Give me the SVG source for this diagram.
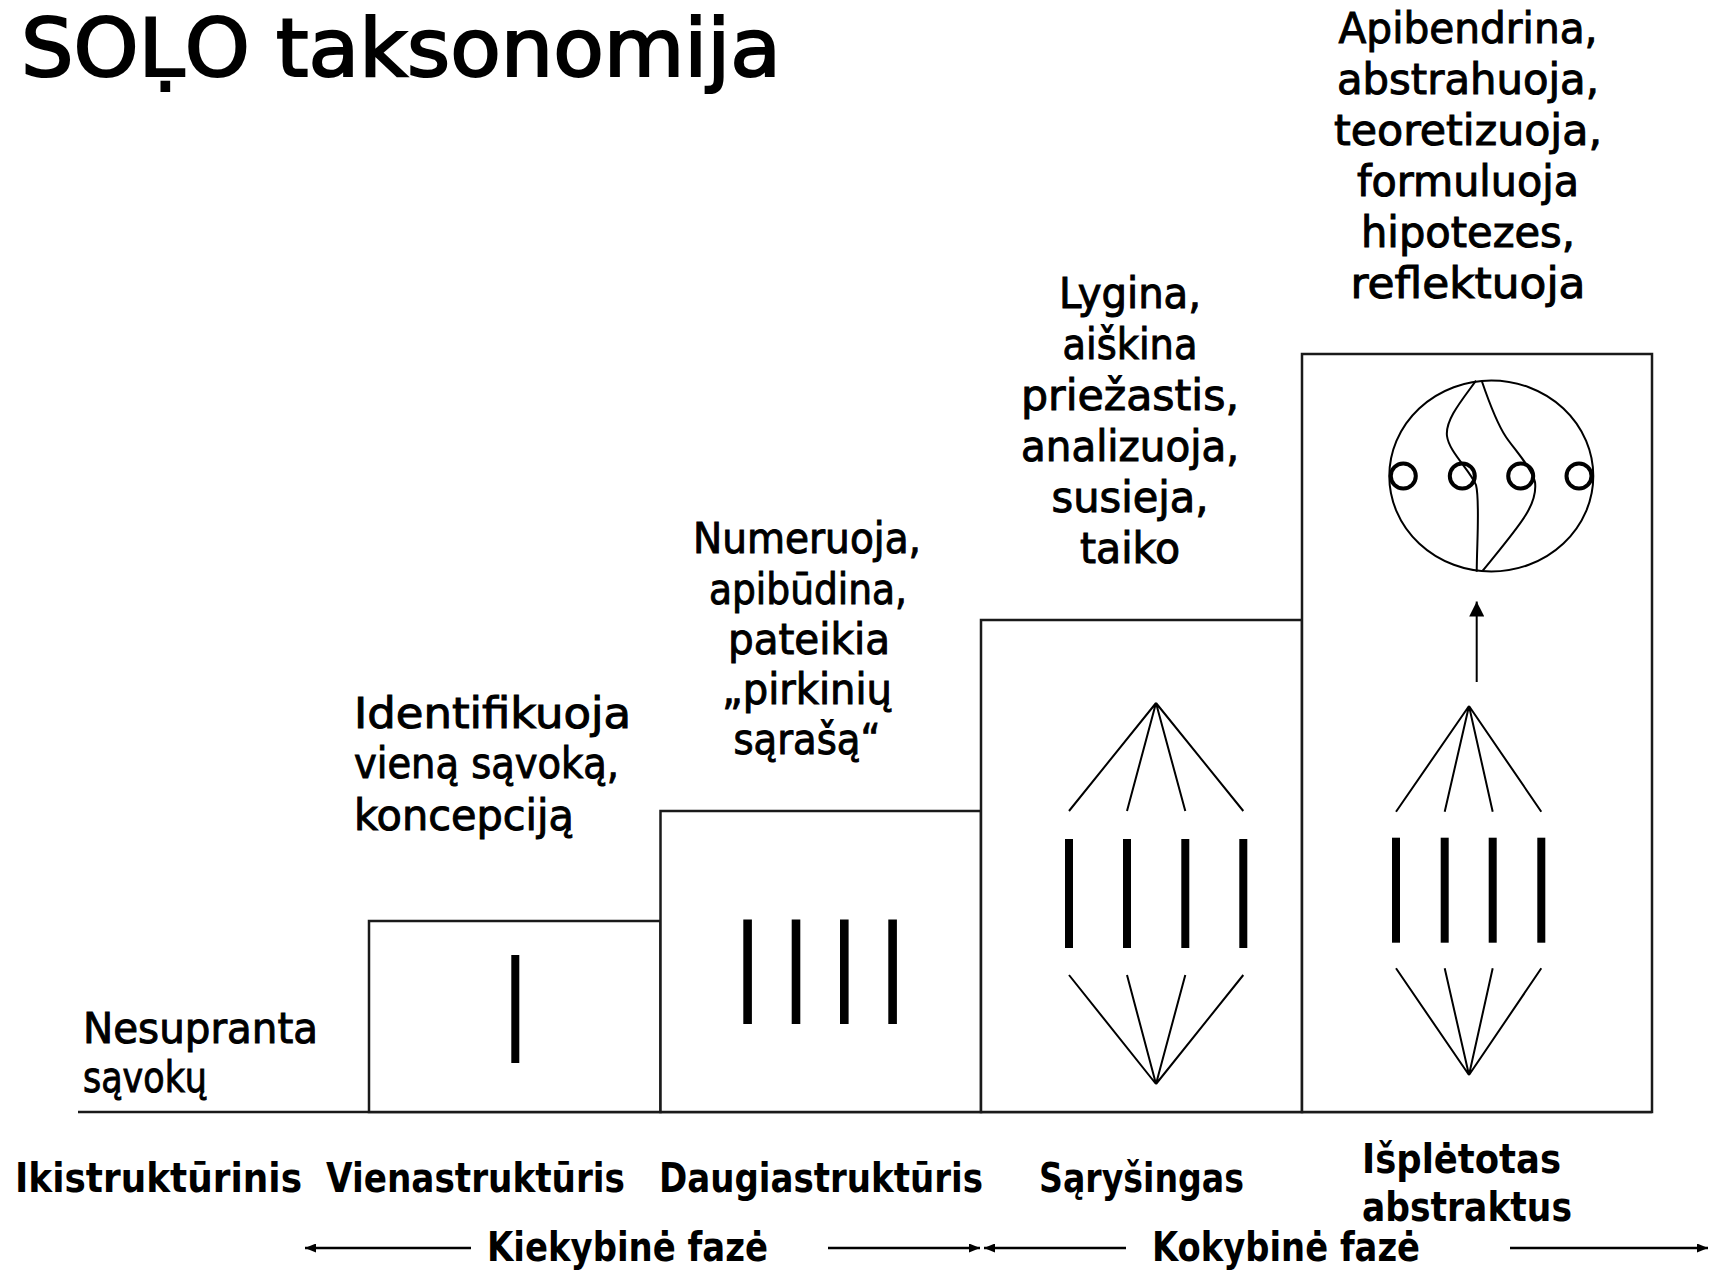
<svg xmlns="http://www.w3.org/2000/svg" width="1709" height="1271" viewBox="0 0 1709 1271">
  <defs>
    <style>
      .box { fill: #ffffff; stroke: #1a1a1a; stroke-width: 2.5; }
      .bar { fill: #000000; }
      .fan { stroke: #000000; stroke-width: 2; fill: none; }
      .ring { fill: none; stroke: #000000; stroke-width: 4; }
      .thin { fill: none; stroke: #000000; stroke-width: 2; }
      .lbl { font-family: "DejaVu Sans", "Liberation Sans", sans-serif; font-size: 42px; fill: #000000; stroke: #000000; stroke-width: 1; }
      .mid { text-anchor: middle; }
      .lvl { font-family: "DejaVu Sans", "Liberation Sans", sans-serif; font-weight: bold; font-size: 40px; fill: #000000; }
      .title { font-family: "DejaVu Sans", "Liberation Sans", sans-serif; font-size: 81px; fill: #000000; stroke: #000000; stroke-width: 2.2; }
      .phase { stroke: #000000; stroke-width: 2.5; fill: none; }
    </style>
    <marker id="head" viewBox="0 0 11 9" refX="11" refY="4.5" markerWidth="11" markerHeight="9" markerUnits="userSpaceOnUse" orient="auto">
      <path d="M0,0 L11,4.5 L0,9 Z" fill="#000000"/>
    </marker>
    <marker id="headLg" viewBox="0 0 15 15" refX="15" refY="7.5" markerWidth="15" markerHeight="15" markerUnits="userSpaceOnUse" orient="auto">
      <path d="M0,0 L15,7.5 L0,15 Z" fill="#000000"/>
    </marker>
  </defs>

  <rect width="1709" height="1271" fill="#ffffff"/>

  <!-- heading -->
  <text class="title" x="21" y="76" textLength="760" lengthAdjust="spacingAndGlyphs">SOḶO taksonomija</text>

  <!-- ground line -->
  <line x1="78" y1="1112" x2="1652" y2="1112" stroke="#1a1a1a" stroke-width="2.5"/>

  <!-- level 0: prestructural -->
  <g id="level-prestructural">
    <text class="lbl" x="83" y="1043" textLength="235" lengthAdjust="spacingAndGlyphs">Nesupranta</text>
    <text class="lbl" x="83" y="1092" textLength="124" lengthAdjust="spacingAndGlyphs">sąvokų</text>
    <text class="lvl" x="15" y="1192" textLength="287" lengthAdjust="spacingAndGlyphs">Ikistruktūrinis</text>
  </g>

  <!-- level 1: unistructural -->
  <g id="level-unistructural">
    <rect class="box" x="369" y="921" width="291.5" height="191"/>
    <rect class="bar" x="511.3" y="955" width="8" height="108"/>
    <text class="lbl" x="354" y="728" textLength="277" lengthAdjust="spacingAndGlyphs">Identifikuoja</text>
    <text class="lbl" x="354" y="778" textLength="265" lengthAdjust="spacingAndGlyphs">vieną sąvoką,</text>
    <text class="lbl" x="354" y="830" textLength="220" lengthAdjust="spacingAndGlyphs">koncepciją</text>
    <text class="lvl" x="326" y="1192" textLength="299" lengthAdjust="spacingAndGlyphs">Vienastruktūris</text>
  </g>

  <!-- level 2: multistructural -->
  <g id="level-multistructural">
    <rect class="box" x="660.5" y="811" width="320.5" height="301"/>
    <rect class="bar" x="743.3" y="919.5" width="8.6" height="104.5"/>
    <rect class="bar" x="791.7" y="919.5" width="8.6" height="104.5"/>
    <rect class="bar" x="840" y="919.5" width="8.6" height="104.5"/>
    <rect class="bar" x="888.3" y="919.5" width="8.6" height="104.5"/>
    <text class="lbl mid" x="807" y="553" textLength="228" lengthAdjust="spacingAndGlyphs">Numeruoja,</text>
    <text class="lbl mid" x="808" y="604" textLength="198" lengthAdjust="spacingAndGlyphs">apibūdina,</text>
    <text class="lbl mid" x="809" y="654" textLength="162" lengthAdjust="spacingAndGlyphs">pateikia</text>
    <text class="lbl mid" x="807" y="704" textLength="170" lengthAdjust="spacingAndGlyphs">„pirkinių</text>
    <text class="lbl mid" x="807" y="754" textLength="147" lengthAdjust="spacingAndGlyphs">sąrašą“</text>
    <text class="lvl" x="659" y="1192" textLength="324" lengthAdjust="spacingAndGlyphs">Daugiastruktūris</text>
  </g>

  <!-- level 3: relational -->
  <g id="level-relational">
    <rect class="box" x="981" y="620" width="321" height="492"/>
    <path class="fan" d="M1069,811 L1156,703 L1127,811 M1156,703 L1185.3,811 M1156,703 L1243.3,811"/>
    <rect class="bar" x="1065" y="839" width="8" height="109"/>
    <rect class="bar" x="1123" y="839" width="8" height="109"/>
    <rect class="bar" x="1181.3" y="839" width="8" height="109"/>
    <rect class="bar" x="1239.3" y="839" width="8" height="109"/>
    <path class="fan" d="M1069,975 L1156,1084 L1127,975 M1156,1084 L1185.3,975 M1156,1084 L1243.3,975"/>
    <text class="lbl mid" x="1130" y="308" textLength="142" lengthAdjust="spacingAndGlyphs">Lygina,</text>
    <text class="lbl mid" x="1130" y="359" textLength="135" lengthAdjust="spacingAndGlyphs">aiškina</text>
    <text class="lbl mid" x="1130" y="410" textLength="218" lengthAdjust="spacingAndGlyphs">priežastis,</text>
    <text class="lbl mid" x="1130" y="461" textLength="218" lengthAdjust="spacingAndGlyphs">analizuoja,</text>
    <text class="lbl mid" x="1130" y="512" textLength="157" lengthAdjust="spacingAndGlyphs">susieja,</text>
    <text class="lbl mid" x="1130" y="563" textLength="100" lengthAdjust="spacingAndGlyphs">taiko</text>
    <text class="lvl" x="1039" y="1192" textLength="205" lengthAdjust="spacingAndGlyphs">Sąryšingas</text>
  </g>

  <!-- level 4: extended abstract -->
  <g id="level-extended-abstract">
    <rect class="box" x="1302" y="354" width="350" height="758"/>
    <ellipse class="thin" cx="1491.3" cy="476" rx="102" ry="95.5"/>
    <circle class="ring" cx="1403.3" cy="476" r="12.5"/>
    <circle class="ring" cx="1462.3" cy="476" r="12.5"/>
    <circle class="ring" cx="1520.7" cy="476" r="12.5"/>
    <circle class="ring" cx="1579" cy="476" r="12.5"/>
    <path class="thin" d="M1476,380.7 C1462,400 1445,420 1447,436 C1449,452 1470,470 1476,485 C1480,500 1477,540 1476.7,571.7"/>
    <path class="thin" d="M1481.7,380.7 C1490,405 1498,425 1506,437 C1514,449 1532,468 1535,482 C1538,505 1520,525 1482.7,570.7"/>
    <path class="fan" d="M1396,811.7 L1469,706 L1444.7,811.7 M1469,706 L1492.7,811.7 M1469,706 L1541.3,811.7"/>
    <rect class="bar" x="1392" y="837.7" width="8" height="105"/>
    <rect class="bar" x="1440.7" y="837.7" width="8" height="105"/>
    <rect class="bar" x="1488.7" y="837.7" width="8" height="105"/>
    <rect class="bar" x="1537.3" y="837.7" width="8" height="105"/>
    <path class="fan" d="M1396,968.3 L1469,1075 L1444.7,968.3 M1469,1075 L1492.7,968.3 M1469,1075 L1541.3,968.3"/>
    <text class="lbl mid" x="1468" y="43" textLength="259" lengthAdjust="spacingAndGlyphs">Apibendrina,</text>
    <text class="lbl mid" x="1468" y="94" textLength="262" lengthAdjust="spacingAndGlyphs">abstrahuoja,</text>
    <text class="lbl mid" x="1468" y="145" textLength="268" lengthAdjust="spacingAndGlyphs">teoretizuoja,</text>
    <text class="lbl mid" x="1468" y="196" textLength="222" lengthAdjust="spacingAndGlyphs">formuluoja</text>
    <text class="lbl mid" x="1468" y="247" textLength="214" lengthAdjust="spacingAndGlyphs">hipotezes,</text>
    <text class="lbl mid" x="1468" y="298" textLength="235" lengthAdjust="spacingAndGlyphs">reflektuoja</text>
    <text class="lvl" x="1362" y="1173" textLength="199" lengthAdjust="spacingAndGlyphs">Išplėtotas</text>
    <text class="lvl" x="1362" y="1221" textLength="210" lengthAdjust="spacingAndGlyphs">abstraktus</text>
  </g>

  <!-- phase labels -->
  <g id="phase-quantitative">
    <text class="lvl" x="487" y="1261" textLength="281" lengthAdjust="spacingAndGlyphs">Kiekybinė fazė</text>
  </g>
  <g id="phase-qualitative">
    <text class="lvl" x="1152" y="1261" textLength="268" lengthAdjust="spacingAndGlyphs">Kokybinė fazė</text>
  </g>

  <!-- connectors -->
  <g id="connectors">
    <line class="thin" x1="1476.7" y1="682" x2="1476.7" y2="601.5" marker-end="url(#headLg)"/>
    <line class="phase" x1="471" y1="1248" x2="305" y2="1248" marker-end="url(#head)"/>
    <line class="phase" x1="828" y1="1248" x2="980" y2="1248" marker-end="url(#head)"/>
    <line class="phase" x1="1126" y1="1248" x2="984" y2="1248" marker-end="url(#head)"/>
    <line class="phase" x1="1510" y1="1248" x2="1708" y2="1248" marker-end="url(#head)"/>
  </g>
</svg>
